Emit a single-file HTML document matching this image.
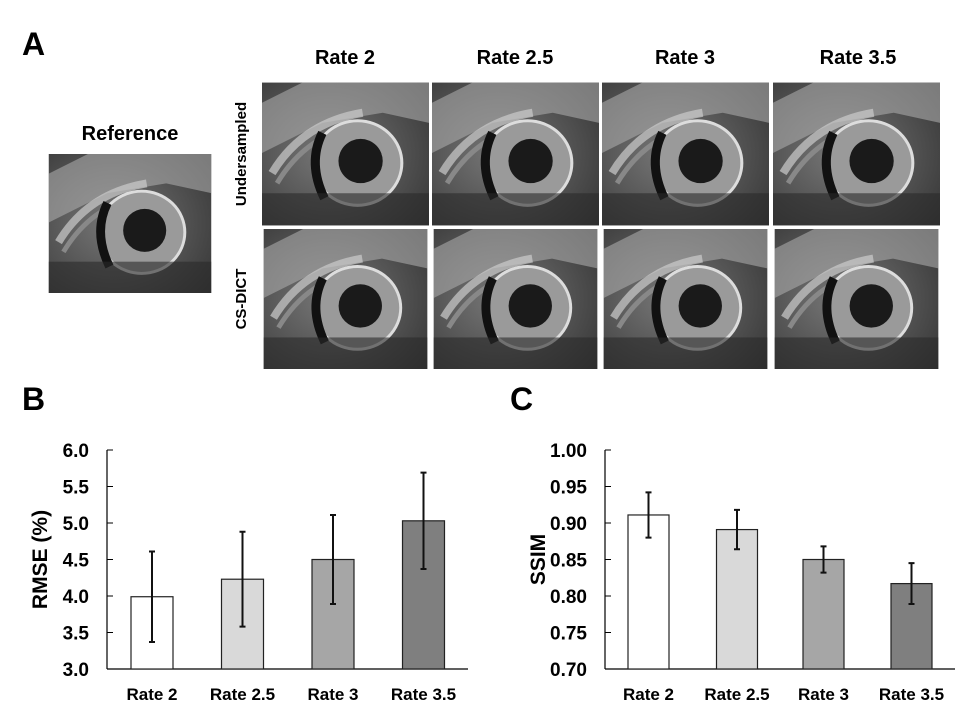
<!DOCTYPE html>
<html><head><meta charset="utf-8"><style>
body{margin:0;background:#fff;font-family:"Liberation Sans",Arial,sans-serif}
svg text{font-family:"Liberation Sans",Arial,sans-serif;font-weight:bold}
</style></head><body>
<svg id="root" width="970" height="714" viewBox="0 0 970 714" xmlns="http://www.w3.org/2000/svg">
<defs>
<radialGradient id="bg" cx="0.4" cy="0.5" r="0.8"><stop offset="0" stop-color="#777"/><stop offset="1" stop-color="#333"/></radialGradient>
<symbol id="heart" viewBox="0 0 166 142">
<rect width="166" height="142" fill="url(#bg)"/>
<path d="M0 20 L40 0 L166 0 L166 40 L120 30 L60 40 L0 70Z" fill="#aaa" opacity="0.6"/>
<path d="M10 90 Q40 40 100 30" stroke="#ccc" stroke-width="8" fill="none" opacity="0.7"/>
<path d="M15 100 Q45 50 100 42" stroke="#888" stroke-width="5" fill="none"/>
<ellipse cx="95" cy="80" rx="44" ry="42" fill="#9a9a9a"/>
<ellipse cx="95" cy="80" rx="44" ry="42" fill="none" stroke="#ddd" stroke-width="3"/>
<path d="M60 50 Q45 80 62 115" stroke="#111" stroke-width="9" fill="none"/>
<ellipse cx="98" cy="78" rx="22" ry="22" fill="#1a1a1a"/>
<rect y="110" width="166" height="32" fill="#2a2a2a" opacity="0.6"/>
</symbol>
</defs>
<text x="22" y="55" font-size="32">A</text>
<text x="345" y="64" font-size="20" text-anchor="middle">Rate 2</text>
<text x="515" y="64" font-size="20" text-anchor="middle">Rate 2.5</text>
<text x="685" y="64" font-size="20" text-anchor="middle">Rate 3</text>
<text x="858" y="64" font-size="20" text-anchor="middle">Rate 3.5</text>
<text x="130" y="140" font-size="20" text-anchor="middle">Reference</text>
<text transform="translate(246,154) rotate(-90)" font-size="15" text-anchor="middle">Undersampled</text>
<text transform="translate(246,299) rotate(-90)" font-size="15" text-anchor="middle">CS-DICT</text>
<use href="#heart" x="47" y="154" width="166" height="139"/>
<g id="grid"></g>
<text x="22" y="410" font-size="32">B</text>
<text x="510" y="410" font-size="32">C</text>
<g id="chartB"></g>
<g id="chartC"></g>
</svg>
<script>
const categories=["Rate 2","Rate 2.5","Rate 3","Rate 3.5"];
const rmseValues=[3.99,4.23,4.50,5.03];
const rmseErrors=[0.62,0.65,0.61,0.66];
const rmseTicks=["3.0","3.5","4.0","4.5","5.0","5.5","6.0"];
const ssimValues=[0.911,0.891,0.850,0.817];
const ssimErrors=[0.031,0.027,0.018,0.028];
const ssimTicks=["0.70","0.75","0.80","0.85","0.90","0.95","1.00"];
const fills=["#ffffff","#d9d9d9","#a6a6a6","#7f7f7f"];
const NS="http://www.w3.org/2000/svg";
function mk(p,t,a){const e=document.createElementNS(NS,t);for(const k in a)e.setAttribute(k,a[k]);p.appendChild(e);return e;}
// image grid
const grid=document.getElementById('grid');
const gx=[262,432,602,773],gy=[82,229];
for(let r=0;r<2;r++)for(let c=0;c<4;c++){
 const u=mk(grid,'use',{href:'#heart',x:gx[c],y:gy[r],width:167,height:r?140:144,preserveAspectRatio:'none'});
 
 
}
function chart(g,ax,ax2,vals,errs,ticks,tmin,tmax,title,centers,bw){
 const top=450,bot=669;
 const y=v=>bot-(v-tmin)/(tmax-tmin)*(bot-top);
 mk(g,'line',{x1:ax,y1:top,x2:ax,y2:bot,stroke:'#000','stroke-width':1.2});
 mk(g,'line',{x1:ax,y1:bot,x2:ax2,y2:bot,stroke:'#000','stroke-width':1.2});
 ticks.forEach(t=>{const v=parseFloat(t);const yy=y(v);
  mk(g,'line',{x1:ax,y1:yy,x2:ax+6,y2:yy,stroke:'#000'});
  const tx=mk(g,'text',{x:ax-18,y:yy+7,'font-size':19,'text-anchor':'end'});tx.textContent=t;
  
  
 });
 const yt=mk(g,'text',{transform:`translate(${ax-60},${(top+bot)/2}) rotate(-90)`,'font-size':21,'text-anchor':'middle'});yt.textContent=title;
 
 
 vals.forEach((v,i)=>{const cx=centers[i];
  const b=mk(g,'rect',{x:cx-bw/2,y:y(v),width:bw,height:bot-y(v),fill:fills[i],stroke:'#222','stroke-width':1.2});
  
  
  const e=mk(g,'path',{d:`M${cx} ${y(v+errs[i])}V${y(v-errs[i])}M${cx-3} ${y(v+errs[i])}H${cx+3}M${cx-3} ${y(v-errs[i])}H${cx+3}`,stroke:'#111','stroke-width':2,fill:'none'});
  
  
  const l=mk(g,'text',{x:cx,y:700,'font-size':17,'text-anchor':'middle'});l.textContent=categories[i];
  
  
 });
}
chart(document.getElementById('chartB'),107,468,rmseValues,rmseErrors,rmseTicks,3,6,"RMSE (%)",[152,242.5,333,423.5],42);
chart(document.getElementById('chartC'),605,955,ssimValues,ssimErrors,ssimTicks,0.7,1.0,"SSIM",[648.5,737,823.5,911.5],41);
</script>
</body></html>
